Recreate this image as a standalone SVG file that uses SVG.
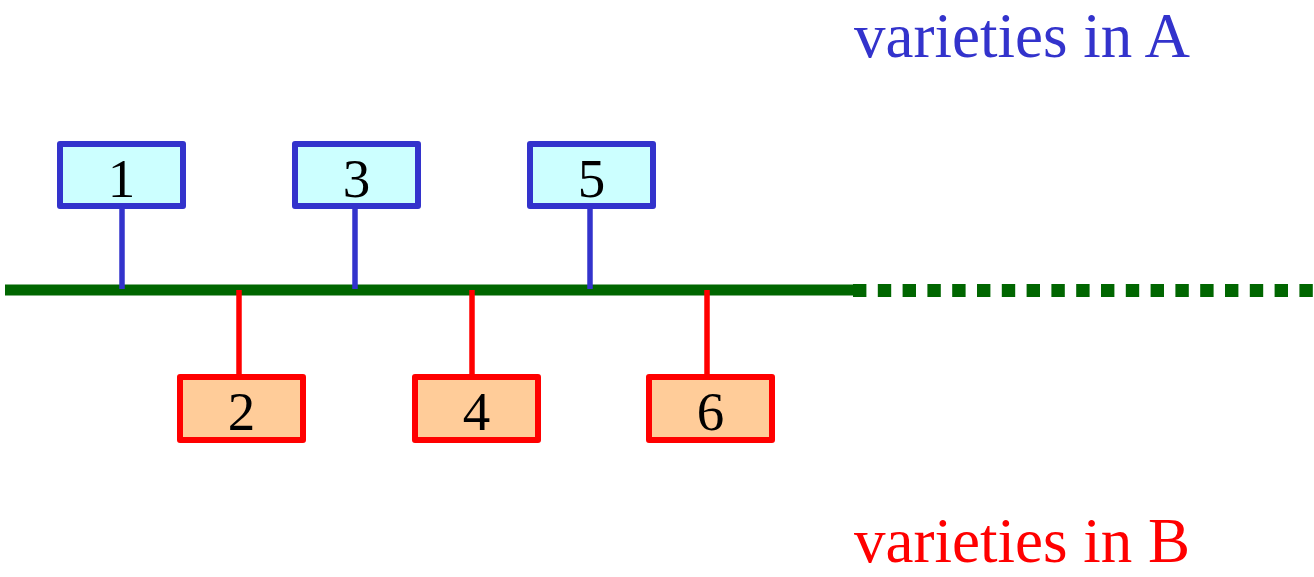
<svg xmlns="http://www.w3.org/2000/svg" width="1314" height="577" viewBox="0 0 1314 577">
<style>
.a{fill:#ccffff;stroke:#3333cc;stroke-width:6;stroke-linejoin:round}
.b{fill:#ffcc99;stroke:#ff0000;stroke-width:6;stroke-linejoin:round}
.sa{stroke:#3333cc;stroke-width:5.5}
.sb{stroke:#ff0000;stroke-width:5.5}
.n{font-family:"Liberation Serif",serif;font-size:55px;fill:#000;text-anchor:middle}
.lbl{font-family:"Liberation Serif",serif;font-size:63px}
</style>
<rect width="1314" height="577" fill="#fff"/>
<g id="connectors">
<line x1="5" y1="290" x2="853" y2="290" stroke="#006600" stroke-width="11"/>
<line x1="853" y1="290.5" x2="1314" y2="290.5" stroke="#006600" stroke-width="13" stroke-dasharray="13.4 11.4"/>
<line class="sa" x1="122" y1="204" x2="122" y2="289"/>
<line class="sa" x1="355" y1="204" x2="355" y2="289"/>
<line class="sa" x1="590" y1="204" x2="590" y2="289"/>
<line class="sb" x1="239" y1="290" x2="239" y2="377"/>
<line class="sb" x1="472" y1="290" x2="472" y2="377"/>
<line class="sb" x1="707" y1="290" x2="707" y2="377"/>
</g>
<g id="n1"><rect class="a" x="60" y="144" width="123" height="62"/><text class="n" x="121.5" y="197">1</text></g>
<g id="n3"><rect class="a" x="295" y="144" width="123" height="62"/><text class="n" x="356.5" y="197">3</text></g>
<g id="n5"><rect class="a" x="530" y="144" width="123" height="62"/><text class="n" x="591.5" y="197">5</text></g>
<g id="n2"><rect class="b" x="180" y="377" width="123" height="63"/><text class="n" x="241.5" y="430">2</text></g>
<g id="n4"><rect class="b" x="415" y="377" width="123" height="63"/><text class="n" x="476.5" y="430">4</text></g>
<g id="n6"><rect class="b" x="649" y="377" width="123" height="63"/><text class="n" x="710.5" y="430">6</text></g>
<g id="labelA"><text class="lbl" x="854" y="57" fill="#3333cc">varieties in A</text></g>
<g id="labelB"><text class="lbl" x="854" y="562" fill="#ff0000">varieties in B</text></g>
</svg>
